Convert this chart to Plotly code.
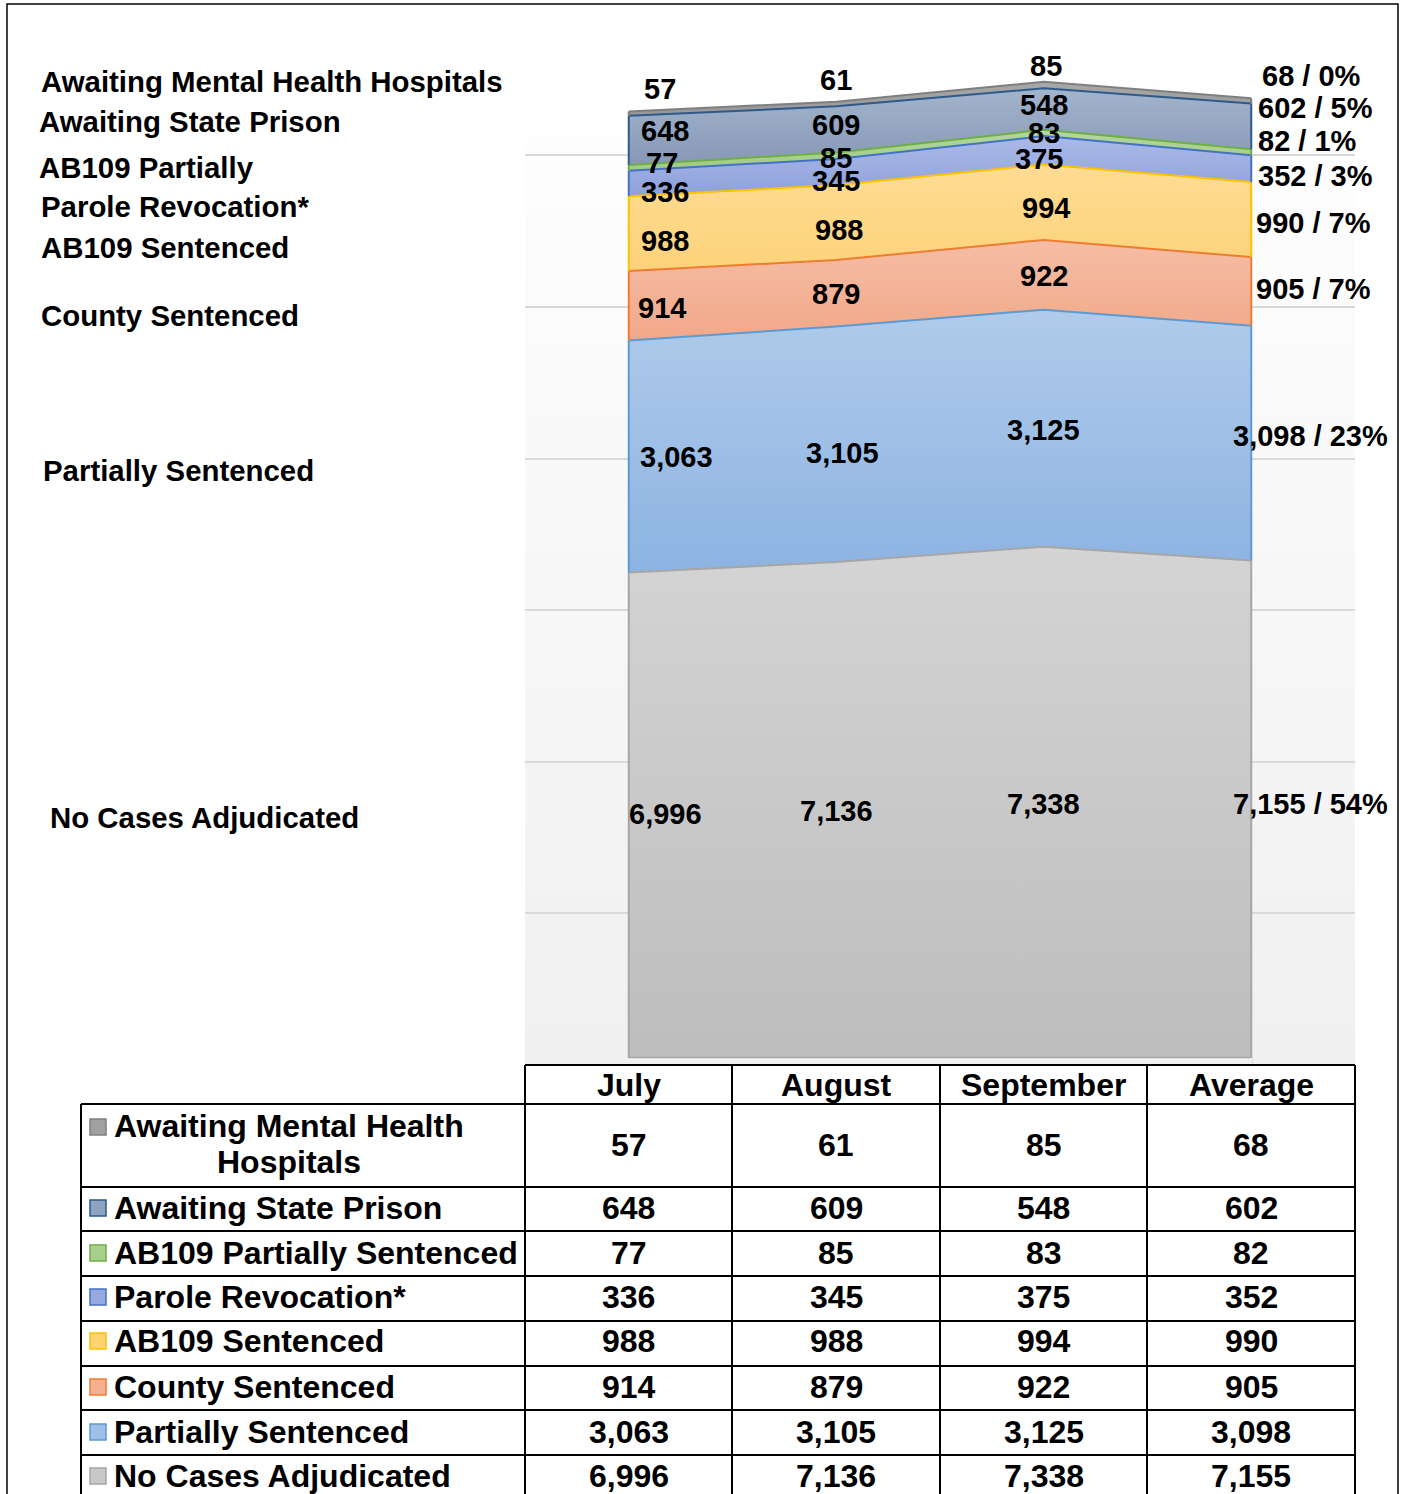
import plotly.graph_objects as go

W, H = 1407, 1494

# ---------------- data ----------------
months = ["July", "August", "September", "Average"]
series_names = ["No Cases Adjudicated", "Partially Sentenced", "County Sentenced",
                "AB109 Sentenced", "Parole Revocation*", "AB109 Partially Sentenced",
                "Awaiting State Prison", "Awaiting Mental Health Hospitals"]
no_cases = [6996, 7136, 7338, 7155]
partially_sentenced = [3063, 3105, 3125, 3098]
county_sentenced = [914, 879, 922, 905]
ab109_sentenced = [988, 988, 994, 990]
parole_revocation = [336, 345, 375, 352]
ab109_partially = [77, 85, 83, 82]
awaiting_state_prison = [648, 609, 548, 602]
awaiting_mental_health = [57, 61, 85, 68]
average_pct = [54, 23, 7, 7, 3, 1, 5, 0]
left_labels = ["No Cases Adjudicated", "Partially Sentenced", "County Sentenced",
               "AB109 Sentenced", "Parole Revocation*", "AB109 Partially",
               "Awaiting State Prison", "Awaiting Mental Health Hospitals"]
series_values = [no_cases, partially_sentenced, county_sentenced, ab109_sentenced,
                 parole_revocation, ab109_partially, awaiting_state_prison,
                 awaiting_mental_health]

# ---------------- styles ----------------
FONT = "Liberation Sans, Arial, sans-serif"
STYLE = [  # fill top, fill bottom, line
    ("#d4d4d4", "#bdbdbd", "#a6a6a6"),
    ("#b0cbea", "#8db3e2", "#5b9bd5"),
    ("#f6bda5", "#f1a888", "#ed7d31"),
    ("#ffdc93", "#fdd27a", "#ffc000"),
    ("#aab9e7", "#8da1db", "#4472c4"),
    ("#b3d89d", "#9fcb82", "#70ad47"),
    ("#a3b4cd", "#8698b5", "#2e5a8c"),
    ("#a9a9a9", "#979797", "#7f7f7f"),
]
SWATCH = ["#c8c8c8", "#9dc0e6", "#f4b08f", "#ffd36f", "#97aae0", "#a8d08d", "#8fa2c2", "#a0a0a0"]
Y_MIN, Y_MAX = 500, 14022
LABEL_DY = [[5, 2, 2, 9], [0, -9, -2, 7], [-2, -1, -1, 2], [-7, -7, -6, -3],
            [-9, -9, -9, -7], [5, -2, 0, 11], [9, 4, 4, 18], [25, 24, 19, 25]]
JULY_DX = [-2, 9, 7, 10, 10, 15, 10, 13]
AUG_DX = [0, 6, 0, 3, 0, 0, 0, 0]
SEP_DX = [0, 0, 0, 2, -5, 0, 0, 2]
AVG_DX = [-20, -20, 3, 3, 5, 5, 5, 9]
LEFT_LABEL_POS = [(48, 817), (41, 470), (39, 316), (39, 247), (39, 207), (37, 167), (37, 121), (39, 81)]


def px(x):
    return x / W


def py(y):
    return 1 - y / H


fig = go.Figure()

# cumulative stacks
bases, tops = [], []
run = [0] * len(months)
for vals in series_values:
    bases.append(list(run))
    run = [a + b for a, b in zip(run, vals)]
    tops.append(list(run))

for i, (name, vals) in enumerate(zip(series_names, series_values)):
    ftop, fbot, lc = STYLE[i]
    lo = max(Y_MIN, min(bases[i]))
    hi = max(tops[i])
    fig.add_trace(go.Scatter(
        x=months, y=vals, name=name, mode="lines", stackgroup="one",
        line=dict(color=lc, width=2),
        fillcolor=ftop,
        fillgradient=dict(type="vertical", start=lo, stop=hi,
                          colorscale=[[0, fbot], [1, ftop]]),
        hoverinfo="skip",
    ))

shapes = []
# background gradient bands in the plot area
N = 60
top_px, bot_px = 40, 1065
for k in range(N):
    y0 = top_px + (bot_px - top_px) * k / N
    y1 = top_px + (bot_px - top_px) * (k + 1) / N + 0.5
    t = (k + 0.5) / N
    c = round(255 - t * 15)
    shapes.append(dict(type="rect", xref="paper", yref="paper", x0=px(525), x1=px(1355),
                       y0=py(y1), y1=py(y0), fillcolor=f"rgb({c},{c},{c})",
                       line=dict(width=0), layer="below"))

# vertical side edges of each area (at first and last category)
for i in range(len(series_values)):
    lc = STYLE[i][2]
    for j in (0, len(months) - 1):
        shapes.append(dict(type="line", xref="x", yref="y", x0=months[j], x1=months[j],
                           y0=max(Y_MIN, bases[i][j]), y1=tops[i][j],
                           line=dict(color=lc, width=2), layer="above"))

# small gap below the area (floor)
shapes.append(dict(type="rect", xref="paper", yref="paper", x0=px(627), x1=px(1252),
                   y0=py(1064), y1=py(1058), fillcolor="#f1f1f1", line=dict(width=0), layer="above"))
shapes.append(dict(type="line", xref="paper", yref="paper", x0=px(628), x1=px(1250),
                   y0=py(1057.5), y1=py(1057.5), line=dict(color="#a6a6a6", width=1.5), layer="above"))

annotations = []
# data labels
dx_lists = [JULY_DX, AUG_DX, SEP_DX, AVG_DX]
for i, vals in enumerate(series_values):
    for j, m in enumerate(months):
        base = max(Y_MIN, bases[i][j])
        yc = (base + tops[i][j]) / 2
        txt = f"{vals[j]:,}"
        anchor = "center"
        if j == len(months) - 1:
            txt = f"{vals[j]:,} / {average_pct[i]}%"
            anchor = "left"
        if j == 0:
            anchor = "left"
        annotations.append(dict(
            x=m, y=yc, xref="x", yref="y", text=f"<b>{txt}</b>", showarrow=False,
            xanchor=anchor, yanchor="middle", xshift=dx_lists[j][i], yshift=LABEL_DY[i][j],
            font=dict(family=FONT, size=29, color="black")))

# left-side labels
for lab, (lx, ly) in zip(left_labels, LEFT_LABEL_POS):
    annotations.append(dict(x=px(lx), y=py(ly), xref="paper", yref="paper",
                            text=f"<b>{lab}</b>", showarrow=False, xanchor="left",
                            yanchor="middle", font=dict(family=FONT, size=29.4, color="black")))

# ---------------- data table ----------------
TBL = dict(color="black", width=2)
row_lines = [1104, 1187, 1231, 1276, 1321, 1366, 1410, 1455]
col_lines = [525, 732, 940, 1147, 1355]
shapes.append(dict(type="line", xref="paper", yref="paper", x0=px(525), x1=px(1355),
                   y0=py(1065), y1=py(1065), line=TBL, layer="above"))
for ry in row_lines:
    shapes.append(dict(type="line", xref="paper", yref="paper", x0=px(81), x1=px(1355),
                       y0=py(ry), y1=py(ry), line=TBL, layer="above"))
for cx in col_lines:
    shapes.append(dict(type="line", xref="paper", yref="paper", x0=px(cx), x1=px(cx),
                       y0=py(1065), y1=py(1500), line=TBL, layer="above"))
shapes.append(dict(type="line", xref="paper", yref="paper", x0=px(81), x1=px(81),
                   y0=py(1104), y1=py(1500), line=TBL, layer="above"))

# header
for m in months:
    annotations.append(dict(x=m, y=py(1085), xref="x", yref="paper", text=f"<b>{m}</b>",
                            showarrow=False, xanchor="center", yanchor="middle",
                            font=dict(family=FONT, size=32, color="black")))

row_centers = [1145, 1208, 1253, 1297, 1341, 1387, 1432, 1476]  # top-to-bottom rows
n = len(series_values)
for r in range(n):
    i = n - 1 - r  # series index (table lists top of stack first)
    yc = row_centers[r]
    for j, m in enumerate(months):
        annotations.append(dict(x=m, y=py(yc), xref="x", yref="paper",
                                text=f"<b>{series_values[i][j]:,}</b>", showarrow=False,
                                xanchor="center", yanchor="middle",
                                font=dict(family=FONT, size=32, color="black")))
    name = series_names[i]
    sw_y = yc
    if r == 0:
        words = name.split(" ")
        line1 = " ".join(words[:3])
        line2 = " ".join(words[3:])
        annotations.append(dict(x=px(112), y=py(1126), xref="paper", yref="paper",
                                text=f"<b>{line1}</b>", showarrow=False, xanchor="left",
                                yanchor="middle", font=dict(family=FONT, size=32, color="black")))
        annotations.append(dict(x=px(289), y=py(1162), xref="paper", yref="paper",
                                text=f"<b>{line2}</b>", showarrow=False, xanchor="center",
                                yanchor="middle", font=dict(family=FONT, size=32, color="black")))
        sw_y = 1127
    else:
        annotations.append(dict(x=px(112), y=py(yc), xref="paper", yref="paper",
                                text=f"<b>{name}</b>", showarrow=False, xanchor="left",
                                yanchor="middle", font=dict(family=FONT, size=32, color="black")))
    shapes.append(dict(type="rect", xref="paper", yref="paper", x0=px(90), x1=px(106),
                       y0=py(sw_y + 8), y1=py(sw_y - 8), fillcolor=SWATCH[i],
                       line=dict(color=STYLE[i][2], width=1.5), layer="above"))

# outer frame
shapes.append(dict(type="rect", xref="paper", yref="paper", x0=px(7), x1=px(1398),
                   y0=py(1510), y1=py(4), line=dict(color="black", width=1.5),
                   fillcolor="rgba(0,0,0,0)", layer="above"))

fig.update_layout(
    width=W, height=H, margin=dict(l=0, r=0, t=0, b=0),
    paper_bgcolor="white", plot_bgcolor="rgba(0,0,0,0)",
    showlegend=False,
    xaxis=dict(domain=[px(525), px(1355)], type="category", range=[-0.5, 3.5],
               showticklabels=False, showgrid=False, zeroline=False, showline=False, ticks=""),
    yaxis=dict(domain=[py(1065), py(40)], range=[Y_MIN, Y_MAX],
               tickvals=[2500, 4500, 6500, 8500, 10500, 12500],
               showticklabels=False, showgrid=True, gridcolor="#d9d9d9", gridwidth=1.5,
               zeroline=False, showline=False, ticks=""),
    shapes=shapes, annotations=annotations,
)

fig.write_html("out.html", config={"displayModeBar": False},
               post_script="document.body.style.margin='0';document.body.style.overflow='hidden';")
